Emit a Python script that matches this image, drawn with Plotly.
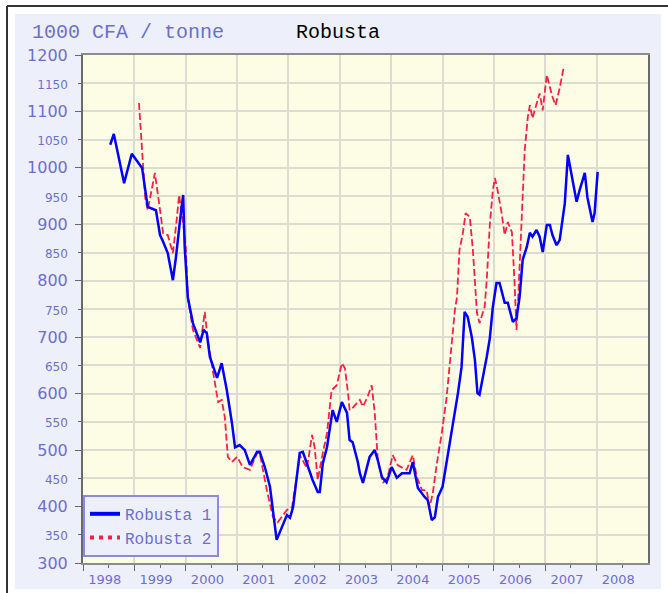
import plotly.graph_objects as go

# values (decimal year, 1000 CFA / tonne)
robusta1_x = [1998.53, 1998.60, 1998.80, 1998.95, 1999.15, 1999.23, 1999.26, 1999.42, 1999.50, 1999.56,
              1999.65, 1999.75, 1999.81, 1999.89, 1999.95, 1999.98, 2000.04, 2000.14, 2000.22, 2000.28,
              2000.35, 2000.41, 2000.47, 2000.61, 2000.70, 2000.80, 2000.90, 2000.96, 2001.05, 2001.15,
              2001.25, 2001.39, 2001.44, 2001.54, 2001.64, 2001.74, 2001.77, 2001.97, 2002.03, 2002.09,
              2002.16, 2002.22, 2002.28, 2002.36, 2002.47, 2002.57, 2002.61, 2002.67, 2002.75, 2002.81,
              2002.86, 2002.94, 2003.04, 2003.14, 2003.19, 2003.25, 2003.35, 2003.39, 2003.45, 2003.58,
              2003.68, 2003.74, 2003.82, 2003.91, 2004.01, 2004.11, 2004.21, 2004.36, 2004.42, 2004.52,
              2004.65, 2004.71, 2004.79, 2004.85, 2004.91, 2005.00, 2005.10, 2005.20, 2005.30, 2005.37,
              2005.43, 2005.49, 2005.57, 2005.63, 2005.68, 2005.72, 2005.78, 2005.86, 2005.92, 2005.98,
              2006.05, 2006.11, 2006.21, 2006.27, 2006.37, 2006.44, 2006.50, 2006.56, 2006.64, 2006.70,
              2006.75, 2006.83, 2006.89, 2006.95, 2007.03, 2007.09, 2007.14, 2007.22, 2007.28, 2007.34,
              2007.38, 2007.44, 2007.47, 2007.53, 2007.61, 2007.67, 2007.77, 2007.82, 2007.90, 2007.92,
              2007.96, 2008.00, 2008.02]
robusta1_y = [1041, 1060, 973, 1025, 1000, 948, 931, 925, 881, 869,
              849, 801, 842, 908, 952, 860, 771, 725, 704, 691,
              713, 707, 665, 628, 654, 606, 548, 505, 509, 500,
              474, 497, 497, 470, 435, 362, 341, 385, 380, 399,
              447, 495, 497, 477, 447, 426, 426, 477, 505, 541,
              571, 550, 585, 566, 518, 514, 479, 459, 442, 488,
              500, 482, 452, 443, 470, 451, 459, 459, 479, 433,
              417, 412, 376, 381, 417, 435, 488, 548, 601, 647,
              745, 736, 700, 660, 601, 598, 624, 665, 698, 754,
              796, 796, 761, 761, 727, 734, 771, 837, 860, 885,
              878, 890, 878, 851, 899, 899, 881, 863, 872, 913,
              937, 1023, 1009, 979, 940, 961, 991, 948, 908, 904,
              920, 979, 993]

robusta2_x = [1999.09, 1999.15, 1999.21, 1999.26, 1999.40, 1999.50, 1999.56, 1999.65, 1999.75, 1999.83,
              1999.87, 1999.95, 2000.00, 2000.04, 2000.08, 2000.14, 2000.28, 2000.37, 2000.43, 2000.53,
              2000.63, 2000.70, 2000.76, 2000.82, 2000.90, 2001.00, 2001.11, 2001.25, 2001.39, 2001.44,
              2001.58, 2001.70, 2001.79, 2001.97, 2002.07, 2002.16, 2002.22, 2002.36, 2002.46, 2002.51,
              2002.57, 2002.67, 2002.75, 2002.84, 2002.94, 2003.04, 2003.10, 2003.16, 2003.19, 2003.25,
              2003.35, 2003.39, 2003.45, 2003.54, 2003.62, 2003.68, 2003.74, 2003.84, 2003.93, 2004.03,
              2004.13, 2004.30, 2004.42, 2004.50, 2004.60, 2004.69, 2004.75, 2004.81, 2004.89, 2004.98,
              2005.08, 2005.14, 2005.24, 2005.28, 2005.33, 2005.39, 2005.45, 2005.53, 2005.59, 2005.67,
              2005.72, 2005.82, 2005.86, 2005.92, 2005.98, 2006.02, 2006.07, 2006.15, 2006.21, 2006.27,
              2006.35, 2006.40, 2006.44, 2006.46, 2006.54, 2006.60, 2006.66, 2006.70, 2006.75, 2006.83,
              2006.89, 2006.95, 2007.03, 2007.09, 2007.14, 2007.20, 2007.28, 2007.36]
robusta2_y = [1115, 1032, 948, 925, 991, 925, 884, 881, 849, 913,
              952, 902, 860, 771, 748, 713, 681, 745, 695, 642,
              585, 589, 559, 488, 479, 488, 470, 465, 495, 495,
              429, 381, 372, 394, 399, 452, 491, 468, 527, 505,
              447, 495, 530, 606, 615, 654, 645, 601, 571, 575,
              585, 589, 577, 594, 615, 566, 482, 442, 452, 491,
              473, 465, 491, 452, 429, 429, 399, 424, 477, 527,
              594, 651, 748, 770, 855, 881, 920, 913, 855, 743,
              725, 754, 801, 899, 961, 982, 961, 920, 881, 904,
              886, 801, 713, 743, 895, 1032, 1090, 1111, 1088, 1115,
              1132, 1102, 1165, 1143, 1126, 1111, 1141, 1179]

years = list(range(1998, 2009))
y_ticks = list(range(300, 1201, 50))

TXT = '#6e6ed2'
PANEL = '#edf0fa'
PLOTBG = '#fdfde6'
GRID = '#dcdcd2'

fig = go.Figure()

fig.add_trace(go.Scatter(x=robusta2_x, y=robusta2_y, mode='lines', showlegend=False,
                         line=dict(color='#ff1f45', width=1.8, dash='7px,3px')))
fig.add_trace(go.Scatter(x=robusta1_x, y=robusta1_y, mode='lines', showlegend=False,
                         line=dict(color='#0000ff', width=2.5)))
# legend entries (thicker samples than the lines)
fig.add_trace(go.Scatter(x=[None], y=[None], mode='lines', name='Robusta 1',
                         line=dict(color='#0000ff', width=4)))
fig.add_trace(go.Scatter(x=[None], y=[None], mode='lines', name='Robusta 2',
                         line=dict(color='#ff1f45', width=4, dash='4px,5px')))

y_text = []
for v in y_ticks:
    if v % 100 == 0:
        y_text.append(str(v))
    else:
        y_text.append("<span style='font-size:12px'>" + str(v) + "</span>")

fig.update_layout(
    width=668, height=593,
    margin=dict(l=83, r=20, t=55, b=30),
    paper_bgcolor='white',
    plot_bgcolor=PLOTBG,
    showlegend=True,
    legend=dict(x=0.0, y=0.012, xanchor='left', yanchor='bottom',
                bgcolor=PANEL, bordercolor='#8a8ae0', borderwidth=2,
                font=dict(family='Liberation Mono', size=16, color=TXT),
                tracegroupgap=0, itemwidth=30),
    xaxis=dict(range=[1998, 2009], tickvals=[y + 0.5 for y in years], ticktext=[str(y) for y in years],
               automargin=False,
               ticks='outside', ticklen=3, tickcolor='#666', showgrid=False, zeroline=False,
               tickfont=dict(family='DejaVu Sans', size=13, color=TXT), ticklabelshift=-4,
               ticklabelstandoff=0,
               minor=dict(tickvals=years, ticks='outside', ticklen=6, tickcolor='#666',
                          showgrid=True, gridcolor=GRID, gridwidth=2),
               showline=True, linecolor='#8c8c8c', linewidth=2, mirror=True),
    yaxis=dict(range=[300, 1200], tickvals=y_ticks, ticktext=y_text,
               automargin=False,
               ticks='outside', ticklen=3, tickcolor='#666',
               showgrid=True, gridcolor=GRID, gridwidth=2, zeroline=False,
               tickfont=dict(family='DejaVu Sans', size=16, color=TXT),
               ticklabelstandoff=7,
               minor=dict(tickvals=list(range(300, 1201, 100)), ticks='outside', ticklen=6,
                          tickcolor='#666', showgrid=False),
               showline=True, linecolor='#6a6a6a', linewidth=2, mirror=True),
    shapes=[
        dict(type='rect', xref='paper', yref='paper', x0=-0.1204, x1=1.023, y0=-0.0512, y1=1.0807,
             fillcolor=PANEL, line=dict(width=0), layer='below'),
        dict(type='rect', xref='paper', yref='paper', x0=0, x1=1, y0=0, y1=1,
             fillcolor=PLOTBG, line=dict(width=0), layer='below'),
        dict(type='line', xref='paper', yref='paper', x0=-0.1345, x1=-0.1345, y0=-0.07, y1=1.0965,
             line=dict(color='#333', width=2)),
        dict(type='line', xref='paper', yref='paper', x0=-0.1345, x1=1.04, y0=1.0965, y1=1.0965,
             line=dict(color='#333', width=2)),
    ],
    annotations=[
        dict(text='1000 CFA / tonne', xref='paper', yref='paper', x=-0.094, y=1.045,
             xanchor='left', yanchor='middle', showarrow=False,
             font=dict(family='Liberation Mono', size=20, color=TXT)),
        dict(text='Robusta', xref='paper', yref='paper', x=0.374, y=1.045,
             xanchor='left', yanchor='middle', showarrow=False,
             font=dict(family='Liberation Mono', size=20, color='black')),
    ],
)

fig.write_html("out.html", config={'displayModeBar': False},
               post_script="document.body.style.margin='0';")
